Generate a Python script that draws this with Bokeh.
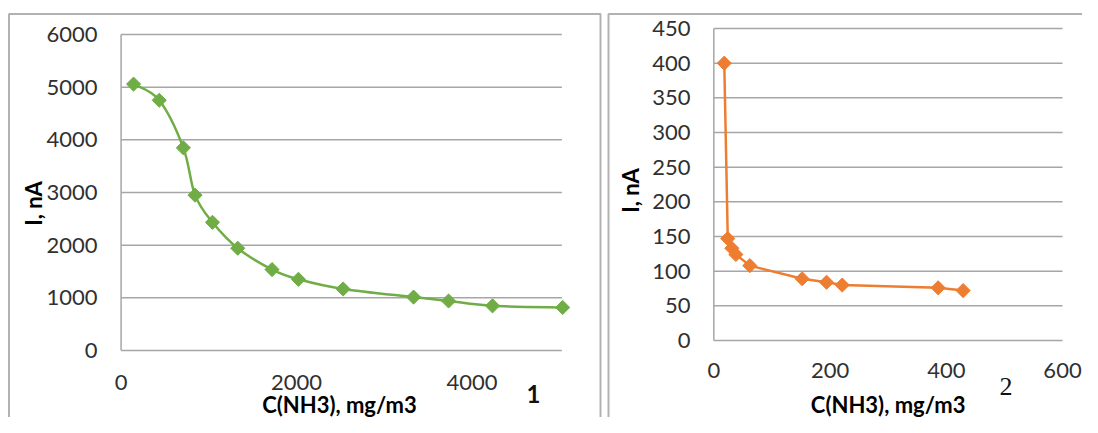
import numpy as np
from bokeh.plotting import figure
from bokeh.layouts import row
from bokeh.models import Label, BoxAnnotation, Range1d
from bokeh.core.properties import value
from bokeh.embed import file_html
from bokeh.resources import INLINE

# ---------------- data ----------------
# Chart 1 (green, smoothed)
c1_x = [142, 435, 710, 843, 1042, 1330, 1721, 2022, 2532, 3335, 3734, 4235, 5035]
c1_y = [5058, 4751, 3848, 2950, 2434, 1942, 1537, 1352, 1168, 1014, 940, 848, 817]
c1_xticks = [0, 2000, 4000]
c1_yticks = [0, 1000, 2000, 3000, 4000, 5000, 6000]
c1_xmax = 5026

# Chart 2 (orange, straight)
c2_x = [18, 24, 31, 38, 62, 152, 194, 221, 386, 429]
c2_y = [400, 147, 133, 124, 108, 89, 84, 80, 76, 72]
c2_xticks = [0, 200, 400, 600]
c2_yticks = [0, 50, 100, 150, 200, 250, 300, 350, 400, 450]
c2_xmax = 600

x_title = "C(NH3), mg/m3"
y_title = "I, nA"

GREEN = "#70AD47"
ORANGE = "#ED7D31"
GRID = "#A6A6A6"
TICK_COL = "#303030"
FONT = "Lato"
H = 417


def make_fig(w, xr, yr):
    p = figure(width=w, height=H, output_backend="svg", toolbar_location=None,
               x_range=Range1d(*xr), y_range=Range1d(*yr),
               x_axis_location=None, y_axis_location=None,
               min_border=0, min_border_left=0, min_border_right=0,
               min_border_top=0, min_border_bottom=0)
    p.xgrid.visible = False
    p.ygrid.visible = False
    p.outline_line_color = None
    p.background_fill_color = "white"
    p.border_fill_color = "white"
    return p


def axes(p, xticks, yticks, xmax, xlab_x, xlab_y):
    n = len(yticks)
    # horizontal gridlines (the 0 line is the category axis)
    p.segment(x0=[0] * n, x1=[xmax] * n, y0=yticks, y1=yticks,
              line_color=GRID, line_width=1.5)
    # value axis line
    p.segment(x0=[0], x1=[0], y0=[yticks[0]], y1=[yticks[-1]],
              line_color=GRID, line_width=1.5)
    # tick labels
    p.text(x=[xlab_x] * n, y=yticks, text=[str(t) for t in yticks],
           text_font=value(FONT), text_font_size="22px", text_color=TICK_COL,
           text_align="right", text_baseline="middle")
    m = len(xticks)
    p.text(x=xticks, y=[xlab_y] * m, text=[str(t) for t in xticks],
           text_font=value(FONT), text_font_size="22px", text_color=TICK_COL,
           text_align="center", text_baseline="middle")


def text(p, x, y, s, size="22px", bold=True, angle=0.0, font=FONT,
         color="black", baseline="middle"):
    p.add_layout(Label(x=x, y=y, text=s, text_font=font, text_font_size=size,
                       text_font_style="bold" if bold else "normal",
                       text_align="center", text_baseline=baseline,
                       angle=angle, text_color=color))


def border(p, left, right, top, bottom):
    p.add_layout(BoxAnnotation(left=left, right=right, top=top, bottom=bottom,
                               left_units="canvas", right_units="canvas",
                               top_units="canvas", bottom_units="canvas",
                               fill_alpha=0, line_color="black", line_width=2,
                               level="overlay"))


# ---------------- chart 1 ----------------
p1 = make_fig(604, (-1375.1, 5512), (-1272, 6645.6))
axes(p1, c1_xticks, c1_yticks, c1_xmax, -269, -607.6)

# smoothed (Catmull-Rom -> Bezier) line through the data points
P = np.column_stack([c1_x, c1_y]).astype(float)
n = len(P)
bx0, by0, bx1, by1, cx0, cy0, cx1, cy1 = ([] for _ in range(8))
for i in range(n - 1):
    pm = P[i - 1] if i > 0 else P[i]
    pa, pb = P[i], P[i + 1]
    pn = P[i + 2] if i + 2 < n else P[i + 1]
    k1 = pa + (pb - pm) / 6.0
    k2 = pb - (pn - pa) / 6.0
    bx0.append(pa[0]); by0.append(pa[1]); bx1.append(pb[0]); by1.append(pb[1])
    cx0.append(k1[0]); cy0.append(k1[1]); cx1.append(k2[0]); cy1.append(k2[1])
p1.bezier(x0=bx0, y0=by0, x1=bx1, y1=by1, cx0=cx0, cy0=cy0, cx1=cx1, cy1=cy1,
          line_color=GREEN, line_width=2.5)
p1.scatter(c1_x, c1_y, marker="square", angle=np.pi / 4, size=10,
           fill_color=GREEN, line_color=GREEN)

text(p1, -999, 2791, y_title, angle=np.pi / 2)
text(p1, 2490, -1025, x_title)
text(p1, 4702, -835, "1", size="24px", bold=True, color="#111111")
border(p1, 8.5, 600, 13.5, 700)

# ---------------- chart 2 ----------------
p2 = make_fig(478, (-188.1, 634.4), (-111.06, 490.4))
axes(p2, c2_xticks, c2_yticks, c2_xmax, -40.1, -43.3)

p2.line(c2_x, c2_y, line_color=ORANGE, line_width=2.5)
p2.scatter(c2_x, c2_y, marker="square", angle=np.pi / 4, size=10,
           fill_color=ORANGE, line_color=ORANGE)

text(p2, -143.3, 216.4, y_title, angle=np.pi / 2)
text(p2, 300, -92.3, x_title)
text(p2, 502.8, -66.3, "2", size="26px", bold=False, font="Liberation Serif", color="#111111")
border(p2, 4, 900, 13.5, 700)

layout = row(p1, p2, spacing=0)
open("out.html", "w").write(file_html(layout, INLINE))
